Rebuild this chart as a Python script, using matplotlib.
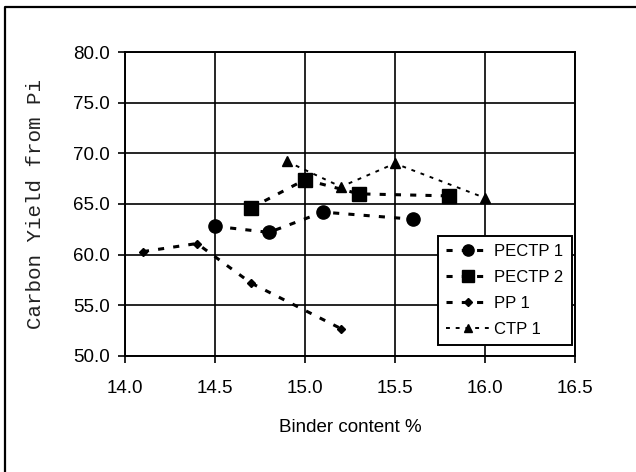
import matplotlib
matplotlib.use("Agg")
import matplotlib.pyplot as plt
from matplotlib.lines import Line2D

# data
pectp1_x = [14.5, 14.8, 15.1, 15.6]
pectp1_y = [62.8, 62.2, 64.2, 63.5]
pectp2_x = [14.7, 15.0, 15.3, 15.8]
pectp2_y = [64.6, 67.4, 66.0, 65.8]
pp1_x = [14.1, 14.4, 14.7, 15.2]
pp1_y = [60.3, 61.1, 57.2, 52.7]
ctp1_x = [14.9, 15.2, 15.5, 16.0]
ctp1_y = [69.2, 66.7, 69.0, 65.6]

x_ticks = [14.0, 14.5, 15.0, 15.5, 16.0, 16.5]
y_ticks = [50.0, 55.0, 60.0, 65.0, 70.0, 75.0, 80.0]

plt.rcParams["font.family"] = ["Liberation Sans", "DejaVu Sans"]

fig = plt.figure(figsize=(6.36, 4.72), dpi=100)
ax = fig.add_axes([0.1965, 0.2458, 0.7075, 0.644])

dash = (0, (2, 3))
ax.plot(pectp1_x, pectp1_y, color="black", linestyle=dash, linewidth=2.2,
        marker="o", markersize=9.5, label="PECTP 1")
ax.plot(pectp2_x, pectp2_y, color="black", linestyle=dash, linewidth=2.2,
        marker="s", markersize=10, label="PECTP 2")
ax.plot(pp1_x, pp1_y, color="black", linestyle=dash, linewidth=2.2,
        marker="D", markersize=4.5, label="PP 1")
ax.plot(ctp1_x, ctp1_y, color="black", linestyle=dash, linewidth=1.4,
        marker="^", markersize=6.5, label="CTP 1")

ax.set_xlim(14.0, 16.5)
ax.set_ylim(50.0, 80.0)
ax.set_xticks(x_ticks)
ax.set_yticks(y_ticks)
ax.set_xticklabels([f"{v:.1f}" for v in x_ticks])
ax.set_yticklabels([f"{v:.1f}" for v in y_ticks])
ax.grid(True, color="black", linewidth=1.2)
ax.tick_params(direction="out", length=5, width=1.2, labelsize=13.5, colors="black")
ax.tick_params(axis="x", pad=12)
ax.tick_params(axis="y", pad=6)
for s in ax.spines.values():
    s.set_linewidth(1.4)

ax.set_xlabel("Binder content %", fontsize=13.5, va="center")
ax.xaxis.set_label_coords(0.5, -0.234)
ax.set_ylabel("Carbon Yield from Pi", fontsize=15, family="Liberation Mono",
              color="#222222", va="center")
ax.yaxis.set_label_coords(-0.198, 0.5)

leg = ax.legend(loc="lower right", bbox_to_anchor=(0.993, 0.036), frameon=True,
                fancybox=False, edgecolor="black", fontsize=12,
                handlelength=2.7, handletextpad=0.2, borderpad=0.5,
                labelspacing=0.65, borderaxespad=0, markerscale=0.85)
leg.get_frame().set_linewidth(1.4)
leg.get_frame().set_alpha(None)

# outer chart-area border: only the top and left edges fall inside the image
bx, by = 5 / 636, 1 - 7 / 472
fig.add_artist(Line2D([bx, bx, 1.0], [0.0, by, by], transform=fig.transFigure,
                      color="black", linewidth=1.6))

fig.savefig("out.png", dpi=100)
